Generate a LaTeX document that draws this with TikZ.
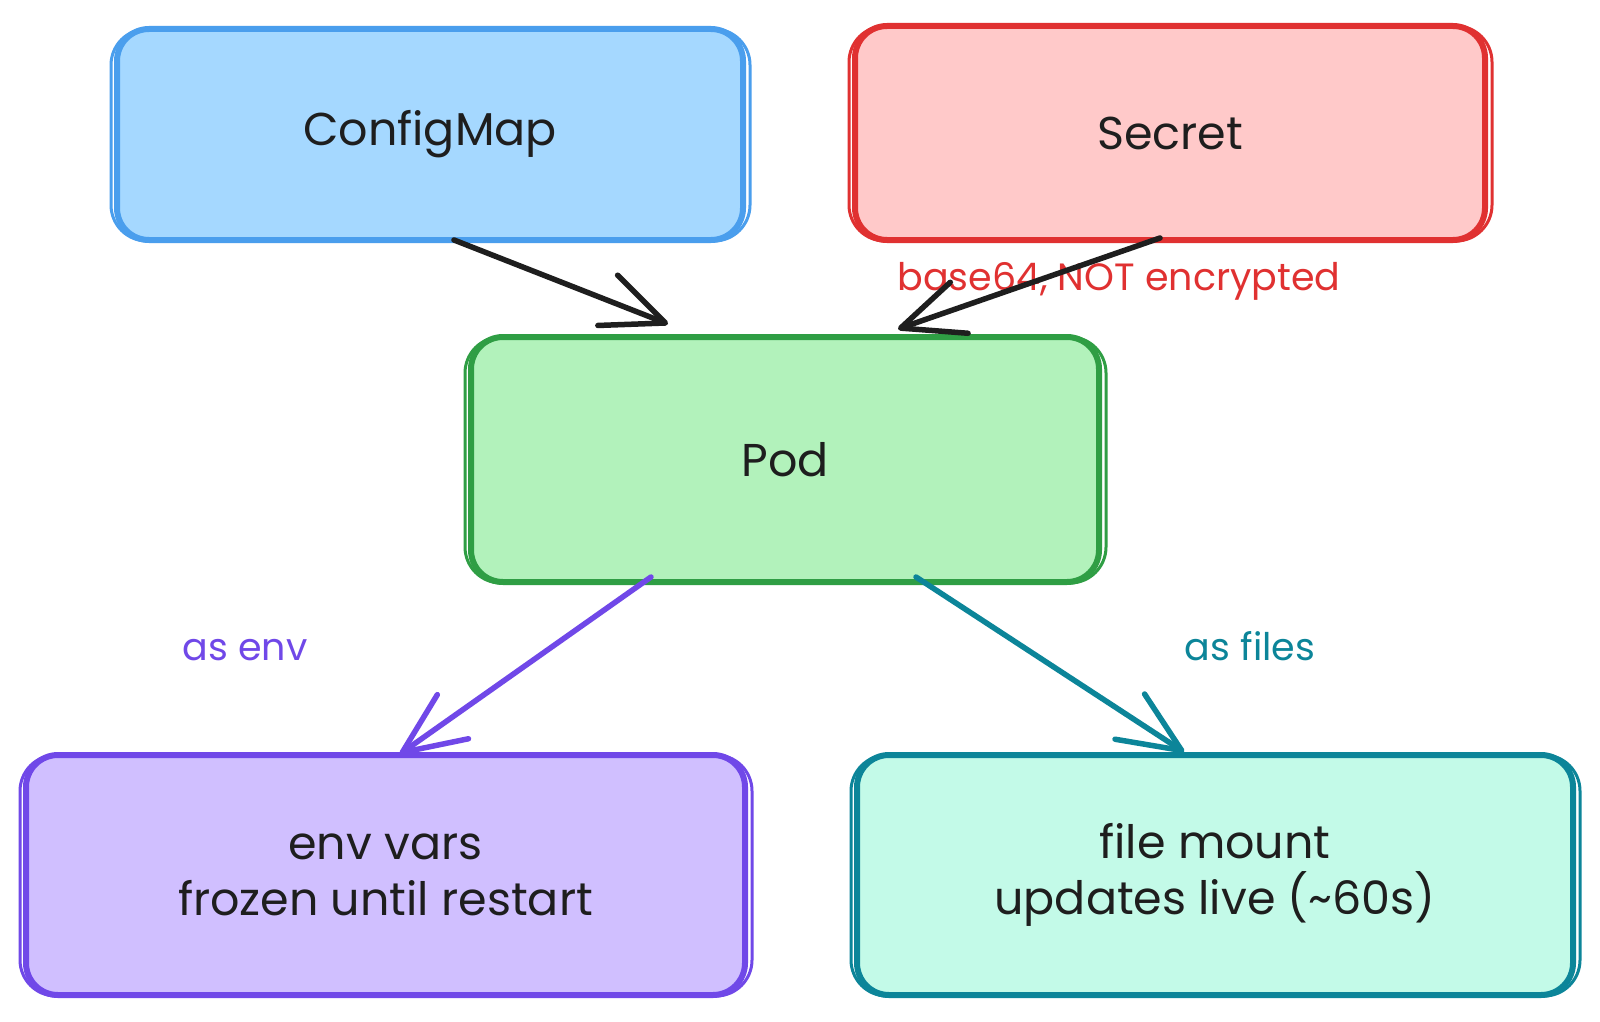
\documentclass[tikz,border=0pt]{standalone}
\usepackage{fontspec}
\setmainfont{Poppins}
\usetikzlibrary{arrows.meta,calc}
\definecolor{cmS}{HTML}{4A9EED}\definecolor{cmF}{HTML}{A5D8FF}
\definecolor{seS}{HTML}{E03131}\definecolor{seF}{HTML}{FFC9C9}
\definecolor{poS}{HTML}{2F9E44}\definecolor{poF}{HTML}{B2F2BB}
\definecolor{enS}{HTML}{7048E8}\definecolor{enF}{HTML}{D0BFFF}
\definecolor{fiS}{HTML}{0C8599}\definecolor{fiF}{HTML}{C3FAE8}
\definecolor{ink}{HTML}{1E1E1E}
\newcommand\sketchedge[2]{\draw[#2, line width=3pt, rounded corners=36pt]
  ([shift={(-3,3)}]#1.north west) rectangle ([shift={(4,-2)}]#1.south east);}
\begin{document}
\begin{tikzpicture}[x=1pt,y=-1pt,
  box/.style={rounded corners=32pt, line width=6pt, inner sep=0pt, align=center,
    font=\fontsize{46}{56}\selectfont, text=ink},
  elabel/.style={font=\fontsize{38}{44}\selectfont, inner sep=0pt},
  arr/.style={line width=5.5pt, line cap=round,
    -{Straight Barb[round,length=62pt,width=54pt]}}]
\useasboundingbox[fill=white] (0,0) rectangle (1600,1022);

\node[box, draw=cmS, fill=cmF, minimum width=626pt, minimum height=211pt] (cm) at (430,134.5) {ConfigMap};
\node[box, draw=seS, fill=seF, minimum width=630pt, minimum height=214pt] (se) at (1170,133) {Secret};
\node[box, draw=poS, fill=poF, minimum width=628pt, minimum height=245pt] (pod) at (785,459.5) {Pod};
\node[box, draw=enS, fill=enF, minimum width=719pt, minimum height=240pt] (env) at (385.5,875) {env vars\\frozen until restart};
\node[box, draw=fiS, fill=fiF, minimum width=716pt, minimum height=240pt] (file) at (1215,875) {file mount\\updates live (\textasciitilde60s)};

\sketchedge{cm}{cmS}
\sketchedge{se}{seS}
\sketchedge{pod}{poS}
\sketchedge{env}{enS}
\sketchedge{file}{fiS}

\node[elabel, text=seS] (lsec) at (1119,281) {base64, NOT encrypted};
\node[elabel, text=enS] (lenv) at (245,650) {as env};
\node[elabel, text=fiS] (lfile) at (1250,646) {as files};

\draw[arr, ink] ($(cm.south)+(24,-3)$) -- ($(pod.north)+(-117,-10)$);
\draw[arr, ink] ($(se.south)+(-10,-5)$) -- ($(pod.north)+(113,-5)$);
\draw[arr, enS] ($(pod.south)+(-134,-8)$) -- ($(env.north)+(14.5,2)$);
\draw[arr, fiS] ($(pod.south)+(131,-8)$) -- ($(file.north)+(-31,0)$);
\end{tikzpicture}
\end{document}
